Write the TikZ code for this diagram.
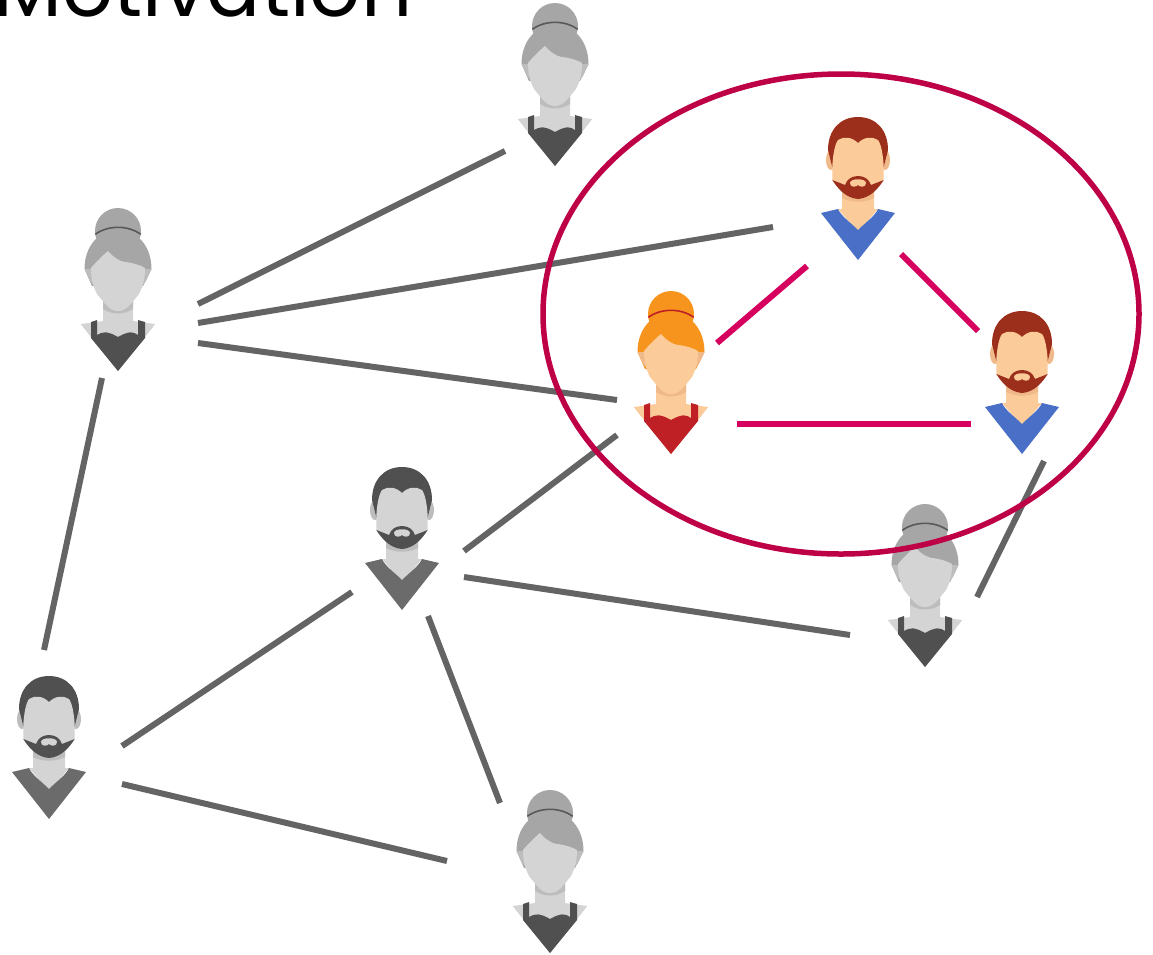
\documentclass[tikz,border=0pt]{standalone}
\usepackage{fontspec}
\setmainfont{Poppins}
\usepackage{xcolor}
\definecolor{linkgrey}{HTML}{646464}
\definecolor{linkpink}{HTML}{D6005F}
\definecolor{ringred}{HTML}{BE0046}
% women, grey
\definecolor{gwhair}{HTML}{A6A6A6}
\definecolor{gwband}{HTML}{595959}
\definecolor{gwface}{HTML}{D4D4D4}
\definecolor{gwshade}{HTML}{BDBDBD}
\definecolor{gwcloth}{HTML}{505050}
% men, grey
\definecolor{gmhair}{HTML}{505050}
\definecolor{gmface}{HTML}{D4D4D4}
\definecolor{gmshade}{HTML}{BDBDBD}
\definecolor{gmcloth}{HTML}{6B6B6B}
% the coloured ones
\definecolor{cwhair}{HTML}{F7941E}
\definecolor{cwband}{HTML}{BE2026}
\definecolor{cwface}{HTML}{FCCB9A}
\definecolor{cwshade}{HTML}{F0B98A}
\definecolor{cwcloth}{HTML}{BE2026}
\definecolor{cmhair}{HTML}{9C2F1B}
\definecolor{cmface}{HTML}{FCCB9A}
\definecolor{cmshade}{HTML}{F0B98A}
\definecolor{cmcloth}{HTML}{4A6FC7}
\usepackage{tikz}
\usetikzlibrary{shapes.geometric}
\tikzset{
  link/.style    ={draw=linkgrey, line width=6pt},
  linkhot/.style ={draw=linkpink, line width=6pt},
  ring/.style    ={ellipse, draw=ringred, line width=5.5pt, minimum width=596pt,
                   minimum height=480pt, inner sep=0pt},
  person/.style  ={inner sep=0pt, minimum size=1pt},
  heading/.style ={anchor=base west, inner sep=0pt, font=\fontsize{80}{84}\selectfont},
  pics/woman/.style={code={
    \fill[#1shade] (-37,-47) -- (37,-47) -- (0,0) -- cycle;
    \fill[#1face] (-37,-47) -- (-15,-50) -- (-15,-75) -- (15,-75) -- (15,-50) -- (37,-47) -- (0,0) -- cycle;
    \fill[#1shade] (-15,-72) .. controls (-8,-62) and (8,-62) .. (15,-72) -- (15,-62) .. controls (6,-56) and (-6,-56) .. (-15,-62) -- cycle;
    \fill[#1hair] (0,-140) circle[radius=23];
    \fill[#1hair] (-33.5,-102) .. controls (-33.5,-124) and (-20,-141) .. (0,-141)
      .. controls (20,-141) and (33.5,-124) .. (33.5,-102) -- (25,-85) -- (-26,-85) -- cycle;
    \fill[#1shade] (-33.5,-102) -- (-26,-102) -- (-21,-83) -- (-28,-90) -- cycle;
    \fill[#1shade] (33.5,-102) -- (26,-102) -- (21,-83) -- (28,-90) -- cycle;
    \fill[#1face] (-27,-103) .. controls (-22,-109) and (-15,-116) .. (-10,-120)
      .. controls (-6,-115) and (2,-109) .. (8,-109)
      .. controls (15,-108) and (22,-106) .. (27,-103)
      .. controls (27,-92) and (25,-85) .. (21,-77)
      .. controls (12,-66) and (8,-60) .. (0,-60)
      .. controls (-8,-60) and (-12,-66) .. (-21,-77)
      .. controls (-25,-85) and (-27,-92) .. (-27,-103) -- cycle;
    \fill[#1cloth] (0,0) -- (-27,-33) -- (-27,-49) -- (-21,-51) -- (-21,-36)
      .. controls (-16,-39) and (-12,-39) .. (-9,-38) .. controls (-5,-37) and (-2,-35) .. (0,-34)
      .. controls (2,-35) and (5,-37) .. (9,-38) .. controls (12,-39) and (16,-39) .. (20,-36)
      -- (20,-51) -- (27,-49) -- (27,-33) -- cycle;
    \draw[#1band, line width=1.6pt] (-22.7,-136.7) .. controls (-10,-146) and (10,-146) .. (22.7,-136.7);
  }},
  pics/man/.style={code={
    \fill[#1shade] (-27,-100) ellipse[x radius=5, y radius=10];
    \fill[#1shade] (27,-100) ellipse[x radius=5, y radius=10];
    \fill[#1face] (-16,-70) -- (16,-70) -- (16,-51) -- (20,-51) -- (0,-28) -- (-20,-51) -- (-16,-51) -- cycle;
    \fill[#1shade] (-16,-68) -- (16,-68) -- (16,-62) .. controls (6,-57) and (-6,-57) .. (-16,-62) -- cycle;
    \fill[#1hair] (-30,-110) .. controls (-30,-130) and (-18,-143) .. (0,-143)
      .. controls (18,-143) and (30,-130) .. (30,-110) -- (25.7,-93) -- (-25.7,-93) -- cycle;
    \fill[#1face] (-25.7,-94) .. controls (-25,-106) and (-23,-116) .. (-20,-120)
      .. controls (-14,-124) and (-6,-123) .. (0,-117)
      .. controls (6,-123) and (14,-124) .. (20,-120)
      .. controls (23,-116) and (25,-106) .. (25.7,-94)
      -- (25.7,-80) -- (10,-66) -- (-10,-66) -- (-25.7,-80) -- cycle;
    \fill[#1hair] (-25.7,-80) -- (-13,-75) .. controls (-11,-81) and (-6,-84) .. (0,-84)
      .. controls (6,-84) and (11,-81) .. (13,-75) -- (25.7,-80)
      .. controls (20,-71) and (12,-62) .. (0,-61)
      .. controls (-12,-62) and (-20,-71) .. (-25.7,-80) -- cycle;
    \fill[#1face] (-8,-77) .. controls (-8,-82) and (8,-82) .. (8,-77)
      .. controls (8,-72.5) and (2,-72.5) .. (0,-75)
      .. controls (-2,-72.5) and (-8,-72.5) .. (-8,-77) -- cycle;
    \fill[#1cloth] (0,0) -- (-37,-47) -- (-20,-51) .. controls (-17,-44) and (-8,-38) .. (0,-30)
      .. controls (8,-38) and (17,-44) .. (20,-51) -- (37,-47) -- cycle;
  }},
}

\begin{document}
\begin{tikzpicture}[x=1pt,y=-1pt]
  \useasboundingbox (0,0) rectangle (1153,954);
  \path[clip] (0,0) rectangle (1153,954);

  \node[heading] (title) at (-7,16) {Motivation};

  % people, placed at the tip of the shirt
  \node[person] (top)    at (555,166) {};
  \node[person] (left)   at (118,371) {};
  \node[person] (middle) at (402,610) {};
  \node[person] (far)    at (925,667) {};
  \node[person] (corner) at (49,819)  {};
  \node[person] (bottom) at (550,953) {};
  \node[person] (red)    at (671,454) {};
  \node[person] (beard)  at (858,260) {};
  \node[person] (blue)   at (1022,454) {};

  \pic at (top)    {woman=gw};
  \pic at (left)   {woman=gw};
  \pic at (middle) {man=gm};
  \pic at (far)    {woman=gw};
  \pic at (corner) {man=gm};
  \pic at (bottom) {woman=gw};
  \pic at (red)    {woman=cw};
  \pic at (beard)  {man=cm};
  \pic at (blue)   {man=cm};

  % free ends of the links
  \coordinate (lefta)  at (198,304);
  \coordinate (leftb)  at (198,323);
  \coordinate (leftc)  at (198,343);
  \coordinate (leftd)  at (102,378);
  \coordinate (topa)   at (505,151);
  \coordinate (bearda) at (773,227);
  \coordinate (beardb) at (807,266);
  \coordinate (beardc) at (901,254);
  \coordinate (reda)   at (617,400);
  \coordinate (redb)   at (617,435);
  \coordinate (redc)   at (717,343);
  \coordinate (redd)   at (737,424);
  \coordinate (bluea)  at (978,331);
  \coordinate (blueb)  at (971,424);
  \coordinate (bluec)  at (1044,461);
  \coordinate (fara)   at (977,597);
  \coordinate (farb)   at (850,635);
  \coordinate (mida)   at (464,551);
  \coordinate (midb)   at (464,577);
  \coordinate (midc)   at (352,592);
  \coordinate (midd)   at (428,616);
  \coordinate (cornera) at (44,650);
  \coordinate (cornerb) at (122,746);
  \coordinate (cornerc) at (122,784);
  \coordinate (bota)   at (500,803);
  \coordinate (botb)   at (447,861);

  \draw[link] (lefta) -- (topa);
  \draw[link] (leftb) -- (bearda);
  \draw[link] (leftc) -- (reda);
  \draw[link] (leftd) -- (cornera);
  \draw[link] (redb) -- (mida);
  \draw[link] (midb) -- (farb);
  \draw[link] (midc) -- (cornerb);
  \draw[link] (midd) -- (bota);
  \draw[link] (cornerc) -- (botb);
  \draw[link] (bluec) -- (fara);

  \draw[linkhot] (redc) -- (beardb);
  \draw[linkhot] (beardc) -- (bluea);
  \draw[linkhot] (redd) -- (blueb);

  \node[ring] (circle) at (841,314) {};
\end{tikzpicture}
\end{document}
